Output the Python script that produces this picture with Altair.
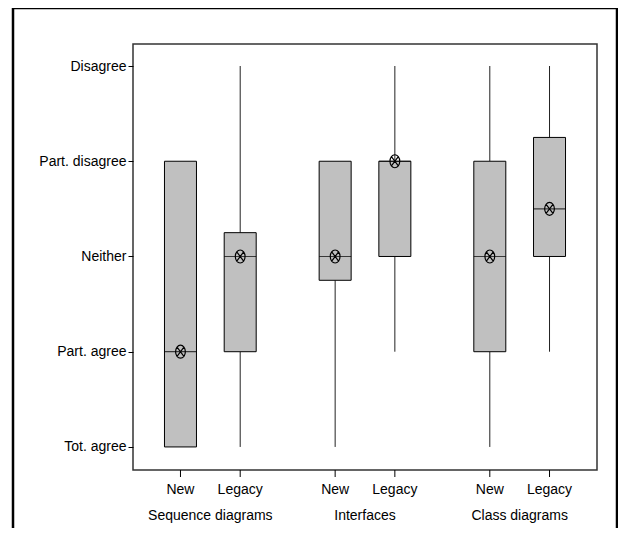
import altair as alt
import pandas as pd

# ---- data ----
groups = ["Sequence diagrams", "Sequence diagrams", "Interfaces", "Interfaces",
          "Class diagrams", "Class diagrams"]
types = ["New", "Legacy", "New", "Legacy", "New", "Legacy"]
lo = [1, 1, 1, 2, 1, 2]
q1 = [1, 2, 2.75, 3, 2, 3]
med = [2, 3, 3, 4, 3, 3.5]
q3 = [4, 3.25, 4, 4, 4, 4.25]
hi = [4, 5, 4, 5, 5, 5]
mean = [2, 3, 3, 4, 3, 3.5]

group_order = ["Sequence diagrams", "Interfaces", "Class diagrams"]
type_order = ["New", "Legacy"]
level_labels = ["Tot. agree", "Part. agree", "Neither", "Part. disagree", "Disagree"]
level_values = [1, 2, 3, 4, 5]

df = pd.DataFrame({"group": groups, "type": types, "lo": lo, "q1": q1,
                   "med": med, "q3": q3, "hi": hi, "mean": mean})
gdf = pd.DataFrame({"group": group_order})
one = pd.DataFrame({"a": [0]})

W, H = 464, 426
FONT = "Liberation Sans"

label_expr = "[" + ",".join(["''"] + ["'" + s + "'" for s in level_labels]) + "][datum.value]"

xs = alt.X("group:N", scale=alt.Scale(domain=group_order, paddingInner=0, paddingOuter=0),
           axis=None)
xo = alt.XOffset("type:N", scale=alt.Scale(domain=type_order, paddingInner=0, paddingOuter=0.295))
yscale = alt.Scale(domain=[0.758, 5.231], nice=False, zero=False)
yaxis = alt.Axis(values=level_values, labelExpr=label_expr, title=None, grid=False,
                 domain=False, tickSize=5, tickColor="black", tickWidth=1,
                 labelFont=FONT, labelFontSize=14, labelColor="black", labelPadding=2)

base = alt.Chart(df)

whisk_lo = base.mark_rule(color="#222222", strokeWidth=1).encode(
    x=xs, xOffset=xo, y=alt.Y("lo:Q", scale=yscale, axis=yaxis), y2="q1:Q")
whisk_hi = base.mark_rule(color="#222222", strokeWidth=1).encode(
    x=xs, xOffset=xo, y=alt.Y("q3:Q", scale=yscale), y2="hi:Q")
box = base.mark_bar(width=32, fill="#c0c0c0", stroke="black", strokeWidth=1).encode(
    x=xs, xOffset=xo, y=alt.Y("q1:Q", scale=yscale), y2="q3:Q")
median = base.mark_tick(color="black", size=32, thickness=1.2, orient="horizontal").encode(
    x=xs, xOffset=xo, y=alt.Y("med:Q", scale=yscale))
marker_path = ("M -0.75 0 A 0.75 1 0 1 0 0.75 0 A 0.75 1 0 1 0 -0.75 0 "
               "M -0.53 -0.7 L 0.53 0.7 M -0.53 0.7 L 0.53 -0.7")
means = base.mark_point(shape=marker_path, size=169, filled=False, stroke="black",
                        strokeWidth=1.2, opacity=1).encode(
    x=xs, xOffset=xo, y=alt.Y("mean:Q", scale=yscale))

xticks = base.mark_rule(color="black", strokeWidth=1).encode(
    x=xs, xOffset=xo, y=alt.value(H), y2=alt.value(H + 7))
type_text = base.mark_text(font=FONT, fontSize=14, color="black", baseline="middle").encode(
    x=xs, xOffset=xo, y=alt.value(H + 20), text="type:N")
group_text = alt.Chart(gdf).mark_text(font=FONT, fontSize=14, color="black",
                                       baseline="middle").encode(
    x=xs, y=alt.value(H + 46), text="group:N")

frame = alt.Chart(one).mark_rect(fillOpacity=0, stroke="black", strokeWidth=2.5).encode(
    x=alt.value(-120), x2=alt.value(484), y=alt.value(-36), y2=alt.value(H + 120))

chart = alt.layer(frame, whisk_lo, whisk_hi, box, median, means, xticks, type_text,
                  group_text).properties(
    width=W, height=H,
    autosize=alt.AutoSizeParams(type="none"),
    padding={"left": 125, "top": 36, "right": 21, "bottom": 58},
).configure_view(stroke="#333333", strokeWidth=1.5)

chart.save("out.html", embed_options={"renderer": "svg", "actions": False})
